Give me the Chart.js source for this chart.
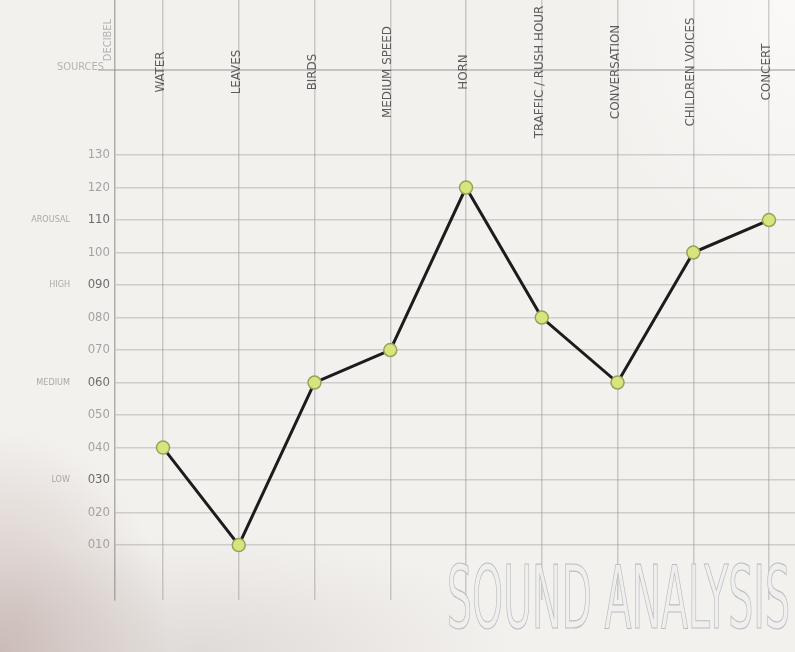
<!DOCTYPE html>
<html>
<head>
<meta charset="utf-8">
<script src="https://cdn.jsdelivr.net/npm/chart.js@4/dist/chart.umd.min.js"></script>
<style>
  html, body { margin: 0; padding: 0; }
  body {
    width: 795px; height: 652px; overflow: hidden;
    background:
      radial-gradient(ellipse 230px 300px at 0% 100%, rgba(175,150,145,0.55), rgba(175,150,145,0) 75%),
      radial-gradient(ellipse 420px 160px at 25% 100%, rgba(200,192,188,0.45), rgba(200,192,188,0) 75%),
      radial-gradient(ellipse 300px 400px at 100% 0%, rgba(255,255,255,0.6), rgba(255,255,255,0) 70%),
      #f3f1ee;
  }
  #soundChart { display: block; }
</style>
</head>
<body>
<canvas id="soundChart" width="795" height="652"></canvas>
<script>
// chart values
const categories = ['WATER', 'LEAVES', 'BIRDS', 'MEDIUM SPEED', 'HORN', 'TRAFFIC / RUSH HOUR', 'CONVERSATION', 'CHILDREN VOICES', 'CONCERT'];
const decibels = [40, 10, 60, 70, 120, 80, 60, 100, 110];
const yTicks = [10, 20, 30, 40, 50, 60, 70, 80, 90, 100, 110, 120, 130];
const zoneLabels = ['AROUSAL', 'HIGH', 'MEDIUM', 'LOW'];
const zoneValues = [110, 90, 60, 30];

const narrow = "'Liberation Sans Narrow', 'DejaVu Sans Condensed', sans-serif";

// header row, side zone labels and the big title
const decorPlugin = {
    id: 'decor',
    afterDraw(chart) {
        const ctx = chart.ctx;
        const xs = chart.scales.x;
        const ys = chart.scales.y;
        const area = chart.chartArea;

        // header line under the category labels
        ctx.save();
        ctx.strokeStyle = 'rgba(130,130,130,0.55)';
        ctx.lineWidth = 1.5;
        ctx.beginPath();
        ctx.moveTo(98, 70);
        ctx.lineTo(area.right, 70);
        ctx.stroke();

        // rotated category labels
        ctx.fillStyle = '#5c5c5c';
        ctx.font = '12px ' + narrow;
        ctx.textAlign = 'center';
        ctx.textBaseline = 'middle';
        categories.forEach((c, i) => {
            const px = xs.getPixelForValue(i) - 2;
            ctx.save();
            ctx.translate(px, 72);
            ctx.rotate(-Math.PI / 2);
            ctx.scale(1.1, 1);
            ctx.fillText(c, 0, 0);
            ctx.restore();
        });

        // corner labels
        ctx.fillStyle = '#b4b4b4';
        ctx.font = '11px ' + narrow;
        ctx.textAlign = 'right';
        ctx.fillText('SOURCES', 104, 67);
        ctx.save();
        ctx.translate(108, 40);
        ctx.rotate(-Math.PI / 2);
        ctx.textAlign = 'center';
        ctx.fillText('DECIBEL', 0, 0);
        ctx.restore();

        // zone labels beside the decibel scale
        ctx.fillStyle = '#a9a9a9';
        ctx.font = '9px ' + narrow;
        ctx.textAlign = 'right';
        zoneLabels.forEach((z, i) => {
            ctx.fillText(z, 70, ys.getPixelForValue(zoneValues[i]));
        });

        // title
        ctx.font = '300 80px ' + narrow;
        ctx.textAlign = 'left';
        ctx.textBaseline = 'alphabetic';
        const title = 'SOUND ANALYSIS';
        const w = ctx.measureText(title).width;
        ctx.translate(447, 628);
        ctx.scale(343 / w, 1.1);
        ctx.fillStyle = 'rgba(238,238,238,0.9)';
        ctx.strokeStyle = '#bdbdbd';
        ctx.lineWidth = 1.1;
        ctx.fillText(title, 0, 0);
        ctx.strokeText(title, 0, 0);
        ctx.restore();
    }
};

new Chart(document.getElementById('soundChart'), {
    type: 'line',
    data: {
        datasets: [{
            data: decibels.map((v, i) => ({ x: i, y: v })),
            borderColor: '#1c1c1c',
            borderWidth: 3,
            pointRadius: 6.5,
            pointBackgroundColor: '#d9e47e',
            pointBorderColor: '#98a256',
            pointBorderWidth: 1.5,
            tension: 0,
            fill: false
        }]
    },
    options: {
        responsive: false,
        animation: false,
        events: [],
        layout: { padding: 0, autoPadding: false },
        plugins: { legend: { display: false }, tooltip: { enabled: false } },
        scales: {
            x: {
                type: 'linear',
                position: 'bottom',
                min: -0.634,
                max: 8.343,
                afterBuildTicks: s => { s.ticks = categories.map((c, i) => ({ value: i })); },
                afterFit: s => { s.height = 52; s.paddingLeft = 0; s.paddingRight = 0; },
                ticks: { display: false },
                grid: { color: 'rgba(140,140,140,0.4)', lineWidth: 1.5, drawTicks: false },
                border: { display: false }
            },
            y: {
                min: -6.9,
                max: 177.7,
                afterBuildTicks: s => { s.ticks = yTicks.map(v => ({ value: v })); },
                afterFit: s => { s.width = 115; s.paddingTop = 0; s.paddingBottom = 0; },
                ticks: {
                    padding: 5,
                    font: { family: narrow, size: 13 },
                    color: c => zoneValues.includes(c.tick.value) ? '#6e6e6e' : '#a3a3a3',
                    callback: v => String(v).padStart(3, '0')
                },
                grid: { color: 'rgba(140,140,140,0.35)', lineWidth: 1.5, drawTicks: false },
                border: { display: true, color: 'rgba(130,130,130,0.6)', width: 1.5 }
            }
        }
    },
    plugins: [decorPlugin]
});
</script>
</body>
</html>
